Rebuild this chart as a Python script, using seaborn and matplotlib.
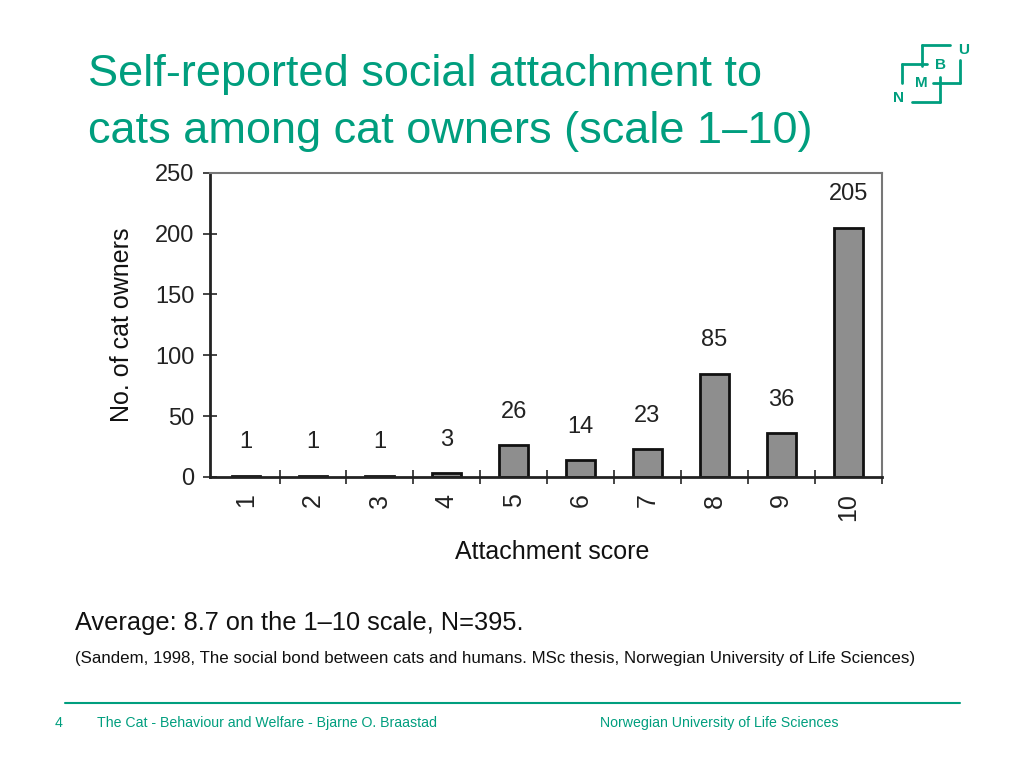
import matplotlib
matplotlib.use("Agg")
import matplotlib.pyplot as plt
import seaborn as sns
import pandas as pd
from matplotlib.lines import Line2D

# data
scores = ["1", "2", "3", "4", "5", "6", "7", "8", "9", "10"]
owners = [1, 1, 1, 3, 26, 14, 23, 85, 36, 205]
y_ticks = [0, 50, 100, 150, 200, 250]

GREEN = "#009E7E"

sns.set_style("white")
plt.rcParams["font.family"] = ["Liberation Sans", "DejaVu Sans"]

df = pd.DataFrame({"score": scores, "owners": owners})

fig = plt.figure(figsize=(10.24, 7.68), dpi=100)
ax = fig.add_axes([0.205, 0.379, 0.656, 0.396])

sns.barplot(data=df, x="score", y="owners", color="#8e8e8e", saturation=1,
            edgecolor="#111111", linewidth=2, width=0.43, ax=ax)

ax.bar_label(ax.containers[0], padding=16, fontsize=17, color="#222222")

ax.set_ylim(0, 250)
ax.set_xlim(-0.54, 9.5)
ax.set_yticks(y_ticks)
ax.tick_params(axis="y", direction="inout", length=10, width=1.2,
               labelsize=17, labelcolor="#222222", pad=6, left=True)
ax.tick_params(axis="x", which="major", length=0, labelsize=18,
               labelcolor="#222222", pad=12, labelrotation=90)
ax.set_xticks([i + 0.5 for i in range(len(scores))], minor=True)
ax.tick_params(axis="x", which="minor", direction="inout", length=10,
               width=1.2, bottom=True)

for side in ["left", "bottom"]:
    ax.spines[side].set_color("#222222")
    ax.spines[side].set_linewidth(2)
for side in ["top", "right"]:
    ax.spines[side].set_color("#777777")
    ax.spines[side].set_linewidth(1.5)

ax.set_ylabel("No. of cat owners", fontsize=18, color="#111111")
ax.yaxis.set_label_coords(-0.113, 0.5)
ax.set_xlabel("Attachment score", fontsize=18, color="#111111")
ax.xaxis.set_label_coords(0.51, -0.207)

# slide title
fig.text(88 / 1024, 1 - 103 / 768,
         "Self-reported social attachment to\ncats among cat owners (scale 1\u201310)",
         fontsize=32.5, color=GREEN, ha="left", va="center", linespacing=1.47)

# notes under the chart
fig.text(75 / 1024, 1 - 623 / 768, "Average: 8.7 on the 1\u201310 scale, N=395.",
         fontsize=18.3, color="#111111", ha="left", va="center")
fig.text(75 / 1024, 1 - 659 / 768,
         "(Sandem, 1998, The social bond between cats and humans. MSc thesis, "
         "Norwegian University of Life Sciences)",
         fontsize=12.2, color="#111111", ha="left", va="center")

# footer
fig.add_artist(Line2D([65 / 1024, 960 / 1024], [1 - 703 / 768, 1 - 703 / 768],
                      color=GREEN, lw=1.5, transform=fig.transFigure))
fig.text(55 / 1024, 1 - 723 / 768, "4", fontsize=10.15, color=GREEN, va="center")
fig.text(97 / 1024, 1 - 723 / 768,
         "The Cat - Behaviour and Welfare - Bjarne O. Braastad",
         fontsize=10.15, color=GREEN, va="center")
fig.text(600 / 1024, 1 - 723 / 768, "Norwegian University of Life Sciences",
         fontsize=10.15, color=GREEN, va="center")


# NMBU logo
def fx(zx):
    return (880 + zx / 3) / 1024


def fy(zy):
    return 1 - (30 + zy / 3) / 768


logo_lines = [
    ([125, 210], [45, 45]), ([125, 125], [45, 108]),
    ([65, 140], [102, 102]), ([65, 65], [102, 160]),
    ([240, 240], [90, 160]), ([160, 240], [160, 160]),
    ([180, 180], [140, 215]), ([95, 180], [215, 215]),
]
for xs, ys in logo_lines:
    fig.add_artist(Line2D([fx(x) for x in xs], [fy(y) for y in ys],
                          color=GREEN, lw=2, transform=fig.transFigure))
for letter, zx, zy in [("U", 250, 60), ("B", 180, 105), ("M", 125, 160), ("N", 55, 205)]:
    fig.text(fx(zx), fy(zy), letter, fontsize=11, fontweight="bold",
             color=GREEN, ha="center", va="center")

fig.savefig("out.png", dpi=100)
